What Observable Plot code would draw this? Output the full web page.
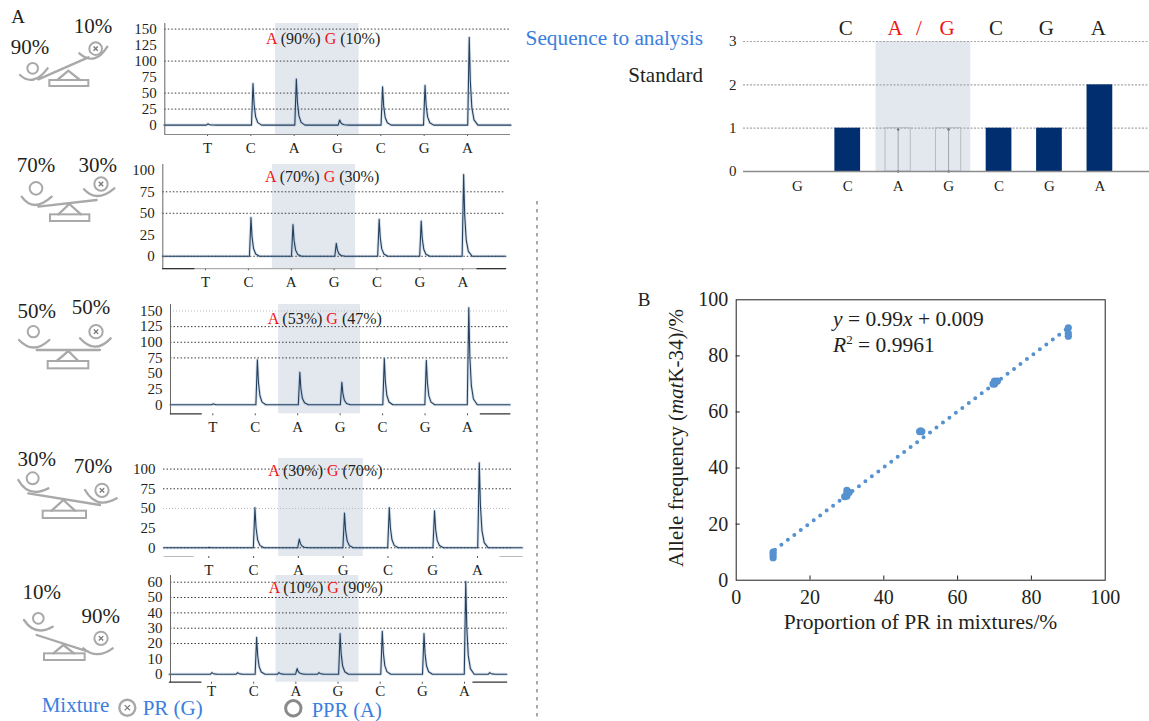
<!DOCTYPE html>
<html><head><meta charset="utf-8">
<script src="https://cdn.jsdelivr.net/npm/d3@7"></script>
<script src="https://cdn.jsdelivr.net/npm/@observablehq/plot@0.6"></script>
<style>
html,body{margin:0;padding:0;background:#fff;overflow:hidden}
#page{position:relative;width:1149px;height:721px;overflow:hidden;font-family:"Liberation Serif",serif}
#page svg{position:absolute;background:transparent;overflow:visible;max-width:none}
</style></head><body><div id="page"></div>
<script>
const SERIF = '"Liberation Serif", serif';
const INK = "#231f20", BLUE = "#3b7ee0", SHADE = "#e3e8ef", TRACE = "#24405f", GRID = "#3a3a3a", ICON = "#a9a9a9";

// Panel A : pyrogram peak readings (position in base units, height in light units)
const baseLabels = ["T","C","A","G","C","G","A"];
const peakPos1 = [0.01,1.05,2.05,3.05,4.04,5.02,6.04];
const peakH1   = [2,65,72,8,60,62,137];
const peakPos2 = [0.01,1.06,2.04,3.05,4.05,5.03,6.02];
const peakH2   = [0,45,37,15,43,41,95];
const peakPos3 = [0.01,1.05,2.05,3.04,4.04,5.03,6.03];
const peakH3   = [1.5,72,52,36,74,71,155];
const peakPos4 = [0.01,1.03,2.02,3.03,4.03,5.04,6.04];
const peakH4   = [0.5,51,11,44,51,47,108];
const peakPos5 = [0.01,0.62,1.07,1.6,2.03,2.55,3.05,4.05,5.04,6.03,6.6];
const peakH5   = [1,1,24,1,3.7,1,26.5,28,26.5,60.5,1];
// shape of one peak: offset in base units, fraction of height
const peakOffset = [-0.035,0,0.025,0.06,0.11,0.2];
const peakShare  = [0,1,0.5,0.2,0.06,0];

const yTicks1 = [0,25,50,75,100,125,150], grid1 = [25,50,100,150];
const yTicks2 = [0,25,50,75,100],         grid2 = [0,50,75];
const yTicks3 = [0,25,50,75,100,125,150], grid3 = [75,100,125];
const yTicks4 = [0,25,50,75,100],         grid4 = [0,75,100];
const yTicks5 = [0,10,20,30,40,50,60],    grid5 = [20,30,40,50,60];
const faint1 = [], faint2 = [], faint3 = [150], faint4 = [50], faint5 = [];

// page geometry of each trace
const panels = [
 {pos:peakPos1,h:peakH1,yt:yTicks1,grid:grid1,faint:faint1,left:164.3,right:509,top:22.7,bottom:133.7,t0:207,t6:467,y0:124.3,ymax:150,ytop:28.3,shade:[1.57,3.5],frameLeft:1,rail:"#888",rails:[]},
 {pos:peakPos2,h:peakH2,yt:yTicks2,grid:grid2,faint:faint2,left:162.3,right:505,top:163.5,bottom:267.7,t0:205,t6:462.3,y0:255.3,ymax:100,ytop:169.3,shade:[1.56,3.5],frameLeft:1,rail:"#999",rails:[[-1,-0.27],[6.33,7]]},
 {pos:peakPos3,h:peakH3,yt:yTicks3,grid:grid3,faint:faint3,left:170,right:509,top:304,bottom:413.3,t0:212.3,t6:467,y0:404.3,ymax:150,ytop:310.5,shade:[1.55,3.48],frameLeft:1,rail:null,rails:[[-1,-0.27],[6.3,7]]},
 {pos:peakPos4,h:peakH4,yt:yTicks4,grid:grid4,faint:faint4,left:163,right:511,top:457.7,bottom:555.7,t0:208.3,t6:477,y0:547,ymax:100,ytop:468.3,shade:[1.56,3.45],frameLeft:0,rail:null,rails:[[-1,-0.35],[6.5,7]],railColor:"#bbb"},
 {pos:peakPos5,h:peakH5,yt:yTicks5,grid:grid5,faint:faint5,left:170,right:506.7,top:575,bottom:681.7,t0:211,t6:464,y0:673.7,ymax:60,ytop:581.7,shade:[1.53,3.5],frameLeft:1,rail:null,rails:[[-1,-0.25],[6.2,7]]}
];

// Standard programme bars
const stdPos = [0,1,2,3,4,5,6];
const stdLabels = ["G","C","A","G","C","G","A"];
const stdH = [0,1,0,0,1,1,2];
const stdGhostPos = [2,3];
const stdGhostH = [1,1];
const stdTicks = [0,1,2,3];
const stdTop = [["C",845.7,INK],["A",895,"#f01414"],["/",919,"#f01414"],["G",947.2,"#f01414"],["C",996,INK],["G",1046.3,INK],["A",1098.4,INK]];

// Panel B
const mixX = [10,10,10,30,30,30.6,29.4,30,49.7,50.3,50,70,70,70.8,69.6,90,90,90];
const mixY = [10,8,9,32,30,31.3,29.8,31,53,53,53.3,71,70,71,70,90,87,88];
const fitX = [10.5,90];
const fitY = [10.9,90];
const axisB = [0,20,40,60,80,100];
const innerB = [20,40,60,80];

const page = d3.select("#page");
function place(svg,l,t){ svg.style.left=l+"px"; svg.style.top=t+"px"; page.node().appendChild(svg); }

// Trace panels
panels.forEach(p=>{
  const L=126, R=516, T=p.top, B=p.bottom+26;
  const trace=[{x:-1,y:0}];
  p.pos.forEach((q,i)=>peakOffset.forEach((o,j)=>trace.push({x:q+o,y:p.h[i]*peakShare[j]})));
  trace.push({x:7,y:0});
  trace.sort((a,b)=>a.x-b.x);
  const marks=[
    Plot.rect([p.shade],{x1:d=>d[0],x2:d=>d[1],fill:SHADE}),
    Plot.ruleY(p.faint,{stroke:"#bbb",strokeDasharray:"1,2",strokeWidth:1}),
    Plot.ruleY(p.grid,{stroke:GRID,strokeDasharray:"1.5,2",strokeWidth:1}),
    Plot.axisY({ticks:p.yt,tickSize:0,tickPadding:8,label:null,fontSize:15,fill:INK}),
    Plot.axisX({ticks:d3.range(7),tickFormat:i=>baseLabels[i],tickSize:2,tickPadding:p===panels[4]?1:6,label:null,fontSize:15,fill:INK,stroke:"#555"}),
    Plot.line(trace,{x:"x",y:"y",stroke:"#8fa8c6",strokeOpacity:0.35,strokeWidth:3,curve:"linear"}),
    Plot.line(trace,{x:"x",y:"y",stroke:TRACE,strokeWidth:1.1,curve:"linear"})
  ];
  if(p.frameLeft) marks.push(Plot.frame({anchor:"left",stroke:"#666"}));
  if(p.rail) marks.push(Plot.frame({anchor:"bottom",stroke:p.rail}));
  p.rails.forEach(r=>marks.push(Plot.line(r.map(x=>({x})),{x:"x",y:()=>p.ymax*(p.y0-p.bottom)/(p.y0-p.ytop),stroke:p.railColor||"#333",strokeWidth:1.2})));
  const svg=Plot.plot({
    width:R-L,height:B-T,marginTop:0,marginLeft:p.left-L,marginRight:R-p.right,marginBottom:B-p.bottom,
    style:{fontFamily:SERIF,background:"transparent"},
    x:{domain:[0,6],range:[p.t0-L,p.t6-L]},
    y:{domain:[0,p.ymax],range:[p.y0-T,p.ytop-T]},
    marks
  });
  place(svg,L,T);
});

// Standard bars
(function(){
  const L=715,T=35,W=434,H=165,A=743-L,Y0=171-T;
  const svg=Plot.plot({
    width:W,height:H,marginTop:41-T,marginLeft:A,marginRight:0,marginBottom:H-Y0,
    style:{fontFamily:SERIF,background:"transparent"},
    x:{domain:[0,6],range:[796.8-L,1099.4-L]},
    y:{domain:[0,3],range:[Y0,41-T]},
    marks:[
      Plot.rect([[1.56,3.44]],{x1:d=>d[0],x2:d=>d[1],fill:SHADE}),
      Plot.ruleY([1,2,3],{stroke:"#a6a6a6",strokeDasharray:"2,1.5",strokeWidth:1.2}),
      Plot.rect(stdGhostPos,{x1:d=>d-0.25,x2:d=>d+0.25,y1:0,y2:(d,i)=>stdGhostH[i],stroke:"#b8bcc2",fill:"none",strokeWidth:1}),
      Plot.ruleX(stdGhostPos,{y1:0,y2:1,stroke:"#a0a4aa",strokeWidth:1}),
      Plot.dot(stdGhostPos.flatMap(d=>[[d,0],[d,0.97]]),{x:d=>d[0],y:d=>d[1],r:1.3,fill:"#777"}),
      Plot.rect(stdPos.filter(i=>stdH[i]>0),{x1:i=>i-0.255,x2:i=>i+0.255,y1:0,y2:i=>stdH[i],fill:"#012e6f"}),
      Plot.axisY({ticks:stdTicks,tickSize:0,tickPadding:7,tickFormat:d=>d,label:null,fontSize:15,fill:INK}),
      Plot.axisX({ticks:stdPos,tickFormat:i=>stdLabels[i],tickSize:0,tickPadding:9,label:null,fontSize:15,fill:INK}),
      Plot.ruleY([0],{stroke:"#8c8c8c",strokeWidth:1.5})
    ]
  });
  place(svg,L,T);
})();

// Panel B scatter
(function(){
  const L=690,T=290,W=450,H=345,l=735.7-L,r=1104.7-L,t=299.3-T,b=579.7-T;
  const svg=Plot.plot({
    width:W,height:H,marginTop:t,marginLeft:l,marginRight:W-r,marginBottom:H-b,
    style:{fontFamily:SERIF,background:"transparent"},
    x:{domain:[0,100],range:[l,r]},
    y:{domain:[0,100],range:[b,t]},
    marks:[
      Plot.frame({stroke:INK,strokeWidth:1}),
      Plot.ruleX(innerB,{y1:0,y2:1.5,stroke:INK}),
      Plot.ruleY(innerB,{x1:0,x2:1.1,stroke:INK}),
      Plot.line(fitX.map((x,i)=>({x,y:fitY[i]})),{x:"x",y:"y",stroke:"#5592cf",strokeWidth:4,strokeLinecap:"round",strokeDasharray:"0,8.1"}),
      Plot.dot(mixX.map((x,i)=>({x,y:mixY[i]})),{x:"x",y:"y",r:3.6,fill:"#5592cf"}),
      Plot.axisX({ticks:axisB,tickSize:0,tickPadding:10,fontSize:20,fill:INK,label:null}),
      Plot.axisY({ticks:axisB,tickSize:0,tickPadding:8,fontSize:20,fill:INK,label:null})
    ]
  });
  place(svg,L,T);
})();

// Overlay : scale icons and annotations
const ov=page.append("svg").attr("width",1149).attr("height",721).style("left","0").style("top","0").style("pointer-events","none");
function txt(s,x,y,size,fill,anchor){
  return ov.append("text").attr("x",x).attr("y",y).attr("font-family",SERIF).attr("font-size",size).attr("fill",fill||INK).attr("text-anchor",anchor||"middle").attr("dominant-baseline","central").text(s);
}
const scaleIcons=[
 {d:"M60,225 Q100,262 143,205 M238,160 Q285,200 322,140 M115,238 L265,172 M172,240 L205,212 L240,240",r:[148,240,117,18],a:[98,205,16],b:[287,146,19]},
 {d:"M65,590 Q100,640 155,590 M252,568 Q290,610 343,565 M115,620 L290,600 M175,643 L208,612 L243,643",r:[150,643,118,20],a:[108,565,19],b:[303,552,20]},
 {d:"M57,150 Q100,195 148,150 M240,145 Q285,195 332,145 M110,180 L300,180 M170,213 L205,183 L235,213",r:[143,213,122,22],a:[100,125,17],b:[288,125,20],oy:290},
 {d:"M55,570 Q85,625 145,595 M255,600 Q290,660 350,625 M85,610 L300,645 M155,662 L190,630 L225,662",r:[128,662,130,22],a:[98,565,18],b:[306,601,20],oy:290},
 {d:"M72,990 Q105,1040 158,1010 M250,1075 Q290,1110 338,1075 M110,1035 L265,1085 M160,1090 L190,1065 L222,1090",r:[132,1090,122,20],a:[115,985,16],b:[303,1045,20],oy:290}
];
function prMark(g,x,y,r,w,cross){
  g.append("circle").attr("cx",x).attr("cy",y).attr("r",r).attr("fill","none").attr("stroke",ICON).attr("stroke-width",w);
  const k=r*0.33;
  g.append("path").attr("d",`M${x-k},${y-k}L${x+k},${y+k}M${x-k},${y+k}L${x+k},${y-k}`).attr("stroke","#777").attr("stroke-width",cross);
}
scaleIcons.forEach(s=>{
  const g=ov.append("g").attr("transform",`translate(0,${s.oy||0}) scale(${1/3})`);
  g.append("path").attr("d",s.d).attr("fill","none").attr("stroke",ICON).attr("stroke-width",7).attr("stroke-linecap","round");
  g.append("rect").attr("x",s.r[0]).attr("y",s.r[1]).attr("width",s.r[2]).attr("height",s.r[3]).attr("fill","none").attr("stroke",ICON).attr("stroke-width",6);
  g.append("circle").attr("cx",s.a[0]).attr("cy",s.a[1]).attr("r",s.a[2]).attr("fill","none").attr("stroke",ICON).attr("stroke-width",6);
  prMark(g,s.b[0],s.b[1],s.b[2],6,4);
});
const pctLabels=[["90%",30,46.7],["10%",93,26],["70%",36,165],["30%",97.7,165],["50%",36.7,310.7],["50%",91,306.7],["30%",36.7,459],["70%",93,465.7],["10%",41.7,591.7],["90%",100.7,615.7]];
pctLabels.forEach(d=>txt(d[0],d[1],d[2],21));
const mixNotes=[["90%","10%",266,38],["70%","30%",265,176],["53%","47%",267.7,317.7],["30%","70%",268.3,470],["10%","90%",268.7,586.7]];
mixNotes.forEach(d=>{
  const t=txt("",d[2],d[3],16,INK,"start");
  t.append("tspan").attr("fill","#f01414").text("A");
  t.append("tspan").text(` (${d[0]}) `);
  t.append("tspan").attr("fill","#f01414").text("G");
  t.append("tspan").text(` (${d[1]})`);
});
txt("A",18,16,19);
txt("B",644,299,19);
stdTop.forEach(d=>txt(d[0],d[1],28,21,d[2]));
txt("Sequence to analysis",703,38,21.3,BLUE,"end");
txt("Standard",703,75,21,INK,"end");
txt("Mixture",41.7,705,21,BLUE,"start");
prMark(ov.append("g"),127.3,707.7,8,2.4,1.2);
txt("PR (G)",142.7,707.7,21,BLUE,"start");
ov.append("circle").attr("cx",293.3).attr("cy",708.3).attr("r",7.7).attr("fill","none").attr("stroke","#8a8a8a").attr("stroke-width",3);
txt("PPR (A)",311.7,710,20.5,BLUE,"start");
ov.append("line").attr("x1",537).attr("x2",537).attr("y1",201).attr("y2",721).attr("stroke","#555").attr("stroke-width",1).attr("stroke-dasharray","3.5,4.5");
// x title
txt("Proportion of PR in mixtures/%",920.5,622,21.5);
// equation
const e1=txt("",833,319,21.5,INK,"start");
e1.append("tspan").attr("font-style","italic").text("y");
e1.append("tspan").text(" = 0.99");
e1.append("tspan").attr("font-style","italic").text("x");
e1.append("tspan").text(" + 0.009");
const e2=txt("",833,345,21.5,INK,"start");
e2.append("tspan").attr("font-style","italic").text("R");
e2.append("tspan").attr("font-size",13).attr("dy",-6).text("2");
e2.append("tspan").attr("dy",6).text(" = 0.9961");
// y title with italic gene name
const yt=ov.append("text").attr("transform","translate(676,438) rotate(-90)").attr("text-anchor","middle").attr("dominant-baseline","central").attr("font-family",SERIF).attr("font-size",21).attr("fill",INK);
yt.append("tspan").text("Allele frequency (");
yt.append("tspan").attr("font-style","italic").text("mat");
yt.append("tspan").text("K-34)/%");
</script></body></html>
